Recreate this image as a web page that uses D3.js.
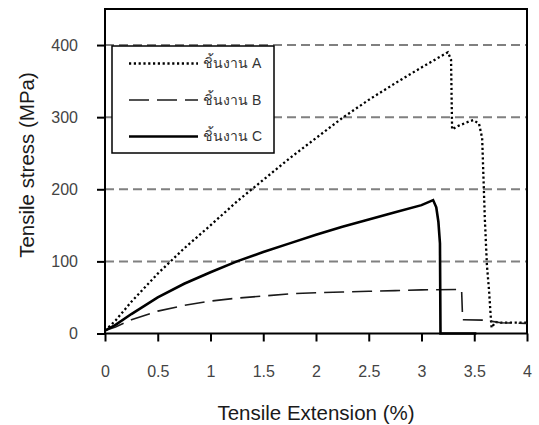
<!DOCTYPE html>
<html>
<head>
<meta charset="utf-8">
<script src="https://cdn.jsdelivr.net/npm/d3@7"></script>
<style>
  body { margin: 0; background: #fff; }
  svg { display: block; font-family: "Liberation Sans", Arial, sans-serif; }
</style>
</head>
<body>
<div id="chart"></div>
<script>
// specimen curves, [extension %, stress MPa]
const specimenA = [[0,4],[0.1,18],[0.25,44],[0.5,83],[0.75,118],[1,150],[1.25,183],[1.5,213],[1.75,243],[2,271],
  [2.25,299],[2.5,324],[2.75,347],[3,369],[3.25,390],[3.28,380],[3.29,283],[3.35,288],[3.45,294],[3.49,296],
  [3.545,291],[3.575,271],[3.6,160],[3.62,95],[3.64,60],[3.66,15],[3.665,8],[3.7,16],[3.75,15],[4,15]];
const specimenB = [[0,4],[0.1,9],[0.25,19],[0.5,31],[0.75,39],[1,45],[1.25,49],[1.5,52],[1.75,55],[2,56.5],
  [2.25,57.5],[2.5,58.5],[2.75,59.5],[3,60.5],[3.38,61],[3.39,19],[3.6,18.5],[3.75,15],[4,14]];
const specimenC = [[0,4],[0.1,12],[0.25,27],[0.5,50],[0.75,69],[1,85],[1.25,100],[1.5,113],[1.75,125],[2,137],
  [2.25,148],[2.5,158],[2.75,168],[3,178],[3.11,185],[3.14,175],[3.16,155],[3.175,125],[3.18,0],[3.52,0]];

const seriesNames = ["ชิ้นงาน A", "ชิ้นงาน B", "ชิ้นงาน C"];
const xTicks = [0, 0.5, 1, 1.5, 2, 2.5, 3, 3.5, 4];
const yTicks = [0, 100, 200, 300, 400];
const gridValues = [100, 200, 300, 400];

const width = 539, height = 425;
const svg = d3.select("#chart").append("svg")
  .attr("width", width)
  .attr("height", height);

const x = d3.scaleLinear().domain([0, 4]).range([105, 527]);
const y = d3.scaleLinear().domain([0, 450]).range([333.5, 9]);

// dashed grid
svg.append("g").selectAll("line")
  .data(gridValues)
  .enter().append("line")
    .attr("x1", x(0)).attr("x2", x(4))
    .attr("y1", d => y(d)).attr("y2", d => y(d))
    .attr("stroke", "#808080")
    .attr("stroke-width", 2)
    .attr("stroke-dasharray", "9,5");

// axes
const xAxis = svg.append("g")
  .attr("transform", "translate(0," + y(0) + ")")
  .call(d3.axisBottom(x).tickValues(xTicks).tickSize(8).tickPadding(24).tickFormat(d => String(d)));
const yAxis = svg.append("g")
  .attr("transform", "translate(" + x(0) + ",0)")
  .call(d3.axisLeft(y).tickValues(yTicks).tickSize(8).tickPadding(19).tickFormat(d => String(d)));

[xAxis, yAxis].forEach(g => {
  g.select(".domain").remove();
  g.selectAll(".tick line").attr("stroke", "#000").attr("stroke-width", 2);
  g.selectAll(".tick text")
    .attr("fill", "#444")
    .style("font-size", "16px")
    .style("font-family", "'Liberation Sans', Arial, sans-serif");
});

// plot frame
svg.append("rect")
  .attr("x", x(0)).attr("y", y(450))
  .attr("width", x(4) - x(0)).attr("height", y(0) - y(450))
  .attr("fill", "none")
  .attr("stroke", "#000")
  .attr("stroke-width", 2);

const line = d3.line()
  .x(d => x(d[0]))
  .y(d => y(d[1]));

const styles = [
  { data: specimenA, width: 2.3, dash: "2.2,2.6", color: "#000" },
  { data: specimenB, width: 1.6, dash: "20,8", color: "#1a1a1a" },
  { data: specimenC, width: 2.6, dash: null, color: "#000" }
];

styles.forEach(s => {
  svg.append("path")
    .datum(s.data)
    .attr("d", line)
    .attr("fill", "none")
    .attr("stroke", s.color)
    .attr("stroke-width", s.width)
    .attr("stroke-dasharray", s.dash);
});

// legend
const legend = svg.append("g");
legend.append("rect")
  .attr("x", 112).attr("y", 46)
  .attr("width", 162).attr("height", 107)
  .attr("fill", "#fff")
  .attr("stroke", "#000")
  .attr("stroke-width", 1.5);

const rowY = [63.5, 100, 136.5];
seriesNames.forEach((name, i) => {
  legend.append("line")
    .attr("x1", 129).attr("x2", 198)
    .attr("y1", rowY[i]).attr("y2", rowY[i])
    .attr("stroke", styles[i].color)
    .attr("stroke-width", styles[i].width)
    .attr("stroke-dasharray", styles[i].dash);
  legend.append("text")
    .attr("x", 203)
    .attr("y", rowY[i] + 4.5)
    .attr("fill", "#333")
    .style("font-size", "14px")
    .text(name);
});

// axis titles
svg.append("text")
  .attr("x", (x(0) + x(4)) / 2)
  .attr("y", 420)
  .attr("text-anchor", "middle")
  .attr("fill", "#1a1a1a")
  .style("font-size", "20.5px")
  .text("Tensile Extension (%)");

svg.append("text")
  .attr("transform", "translate(34,165) rotate(-90)")
  .attr("text-anchor", "middle")
  .attr("fill", "#1a1a1a")
  .style("font-size", "20.5px")
  .text("Tensile stress (MPa)");
</script>
</body>
</html>
